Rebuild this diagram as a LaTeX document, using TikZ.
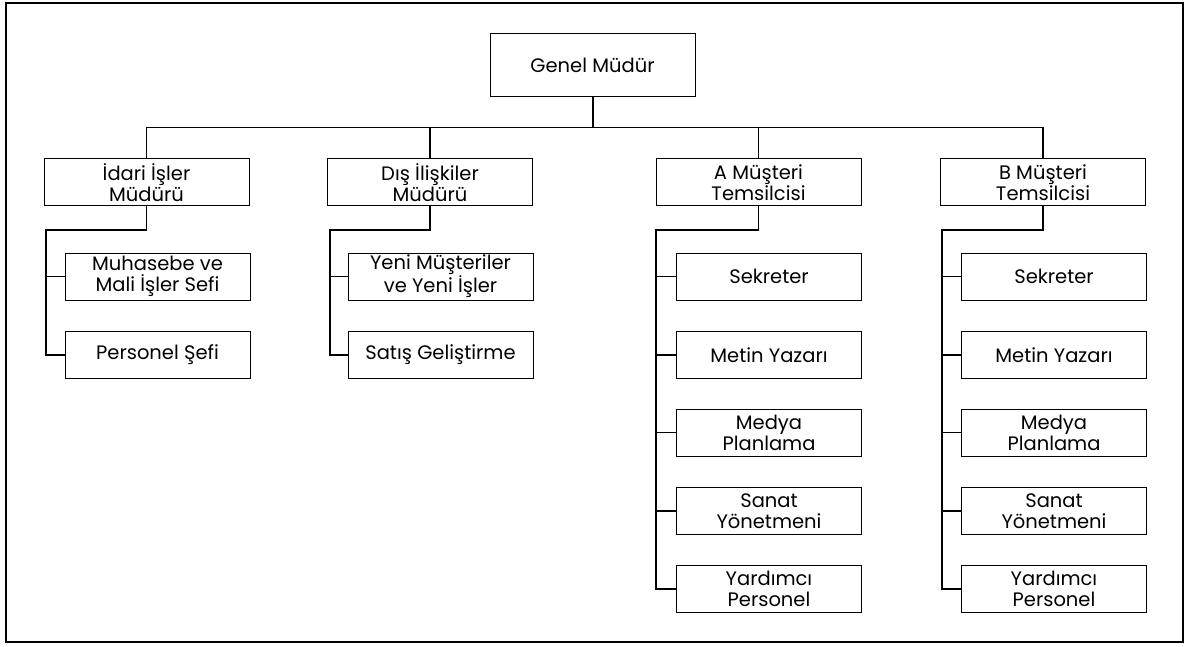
\documentclass[tikz,border=0pt]{standalone}
\usepackage{fontspec}
\setmainfont{Poppins}
\usetikzlibrary{calc}
\begin{document}
\begin{tikzpicture}[x=1pt,y=-1pt,
  box/.style={draw,line width=1pt,align=center,inner sep=0pt,font=\fontsize{19.5}{21}\selectfont},
  topbox/.style={box,minimum width=205pt,minimum height=63pt},
  midbox/.style={box,minimum width=205pt,minimum height=47pt},
  subbox/.style={box,minimum width=185pt,minimum height=47pt},
  conn/.style={line width=1.8pt}]
\useasboundingbox (0,0) rectangle (1188,647);
\draw[line width=1.5pt] (6,3) rectangle (1183,642);
% top
\node[topbox] (gm) at (592.5,65.5) {Genel Müdür};
% level 2
\node[midbox] (i) at (146.5,182.5) {İdari İşler\\Müdürü};
\node[midbox] (d) at (430,182.5) {Dış İlişkiler\\Müdürü};
\node[midbox] (a) at (758.5,182.5) {A Müşteri\\Temsilcisi};
\node[midbox] (b) at (1043,182.5) {B Müşteri\\Temsilcisi};
% level 3 - idari
\node[subbox] (i1) at (157.5,276.5) {Muhasebe ve\\Mali İşler Sefi};
\node[subbox] (i2) at (157.5,355) {Personel Şefi};
% dis
\node[subbox] (d1) at (440.5,276.5) {Yeni Müşteriler\\ve Yeni İşler};
\node[subbox] (d2) at (440.5,355) {Satış Geliştirme};
% A
\node[subbox] (a1) at (769,276.5) {Sekreter};
\node[subbox] (a2) at (769,355) {Metin Yazarı};
\node[subbox] (a3) at (769,432.5) {Medya\\Planlama};
\node[subbox] (a4) at (769,511) {Sanat\\Yönetmeni};
\node[subbox] (a5) at (769,589) {Yardımcı\\Personel};
% B
\node[subbox] (b1) at (1054,276.5) {Sekreter};
\node[subbox] (b2) at (1054,355) {Metin Yazarı};
\node[subbox] (b3) at (1054,432.5) {Medya\\Planlama};
\node[subbox] (b4) at (1054,511) {Sanat\\Yönetmeni};
\node[subbox] (b5) at (1054,589) {Yardımcı\\Personel};
% bus
\coordinate (bus) at (593,127.5);
\draw[conn] (gm.south -| bus) -- (bus);
\draw[conn] (i.north) |- (bus) -| (b.north);
\draw[conn] (d.north) -- (d.north |- bus);
\draw[conn] (a.north) -- (a.north |- bus);
% spines
\coordinate (isp) at (46,230);
\coordinate (dsp) at (330,230);
\coordinate (asp) at (656,230);
\coordinate (bsp) at (942,230);
\draw[conn] (i.south) |- (isp) |- (i2.west);
\draw[conn] (isp |- i1.west) -- (i1.west);
\draw[conn] (d.south) |- (dsp) |- (d2.west);
\draw[conn] (dsp |- d1.west) -- (d1.west);
\draw[conn] (a.south) |- (asp) |- (a5.west);
\foreach \n in {a1,a2,a3,a4} \draw[conn] (asp |- \n.west) -- (\n.west);
\draw[conn] (b.south) |- (bsp) |- (b5.west);
\foreach \n in {b1,b2,b3,b4} \draw[conn] (bsp |- \n.west) -- (\n.west);
\end{tikzpicture}
\end{document}
